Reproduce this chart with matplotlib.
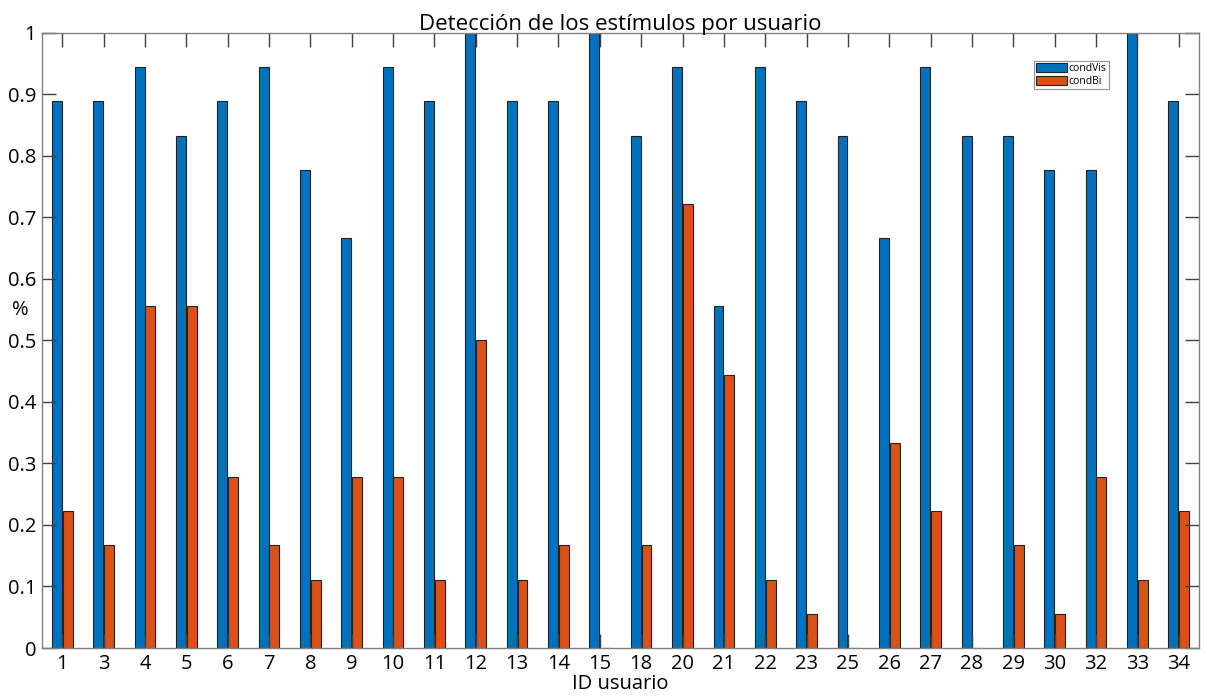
import numpy as np
import matplotlib.pyplot as plt

plt.rcParams['font.family'] = ['Open Sans', 'DejaVu Sans']

usuarios = ['1', '3', '4', '5', '6', '7', '8', '9', '10', '11', '12', '13', '14', '15',
            '18', '20', '21', '22', '23', '25', '26', '27', '28', '29', '30', '32', '33', '34']
cond_vis = [0.889, 0.889, 0.944, 0.833, 0.889, 0.944, 0.778, 0.667, 0.944, 0.889, 1.0, 0.889, 0.889, 1.0,
            0.833, 0.944, 0.556, 0.944, 0.889, 0.833, 0.667, 0.944, 0.833, 0.833, 0.778, 0.778, 1.0, 0.889]
cond_bi = [0.222, 0.167, 0.556, 0.556, 0.278, 0.167, 0.111, 0.278, 0.278, 0.111, 0.5, 0.111, 0.167, 0.0,
           0.167, 0.722, 0.444, 0.111, 0.056, 0.0, 0.333, 0.222, 0.0, 0.167, 0.056, 0.278, 0.111, 0.222]
y_ticks = [0, 0.1, 0.2, 0.3, 0.4, 0.5, 0.6, 0.7, 0.8, 0.9, 1]
y_labels = ['0', '0.1', '0.2', '0.3', '0.4', '0.5', '0.6', '0.7', '0.8', '0.9', '1']

fig = plt.figure(figsize=(12.06, 6.97), dpi=100)
ax = fig.add_axes([0.0345, 0.0703, 0.9600, 0.8824])

x = np.arange(1, len(usuarios) + 1)
w = 0.24
ax.bar(x - w / 2 - 0.01, cond_vis, w, color='#0072BD', edgecolor='#222222', linewidth=0.8, label='condVis')
ax.bar(x + w / 2 + 0.01, cond_bi, w, color='#D95319', edgecolor='#222222', linewidth=0.8, label='condBi')

ax.set_xlim(0.5, len(usuarios) + 0.5)
ax.set_ylim(0, 1)
ax.set_xticks(x)
ax.set_xticklabels(usuarios)
ax.set_yticks(y_ticks)
ax.set_yticklabels(y_labels)
ax.tick_params(direction='in', length=10, width=1, color='#404040', labelsize=14.5,
               top=True, right=True, pad=4)
for s in ax.spines.values():
    s.set_color('#808080')
    s.set_linewidth(1)

ax.set_title('Detección de los estímulos por usuario', fontsize=16, pad=2)
fig.text(0.514, 1 - 684 / 697, 'ID usuario', fontsize=14.5, ha='center', va='center')
fig.text(20 / 1206, 1 - 310 / 697, '%', fontsize=14.5, ha='center', va='center')

leg = ax.legend(loc='upper left', bbox_to_anchor=(0.857, 0.955), fontsize=7.5, frameon=True,
                fancybox=False, edgecolor='#777777', handlelength=2.9, handleheight=0.9,
                borderpad=0.25, labelspacing=0.15, handletextpad=0.15, borderaxespad=0)
leg.get_frame().set_linewidth(0.8)

fig.savefig('out.png', dpi=100)
